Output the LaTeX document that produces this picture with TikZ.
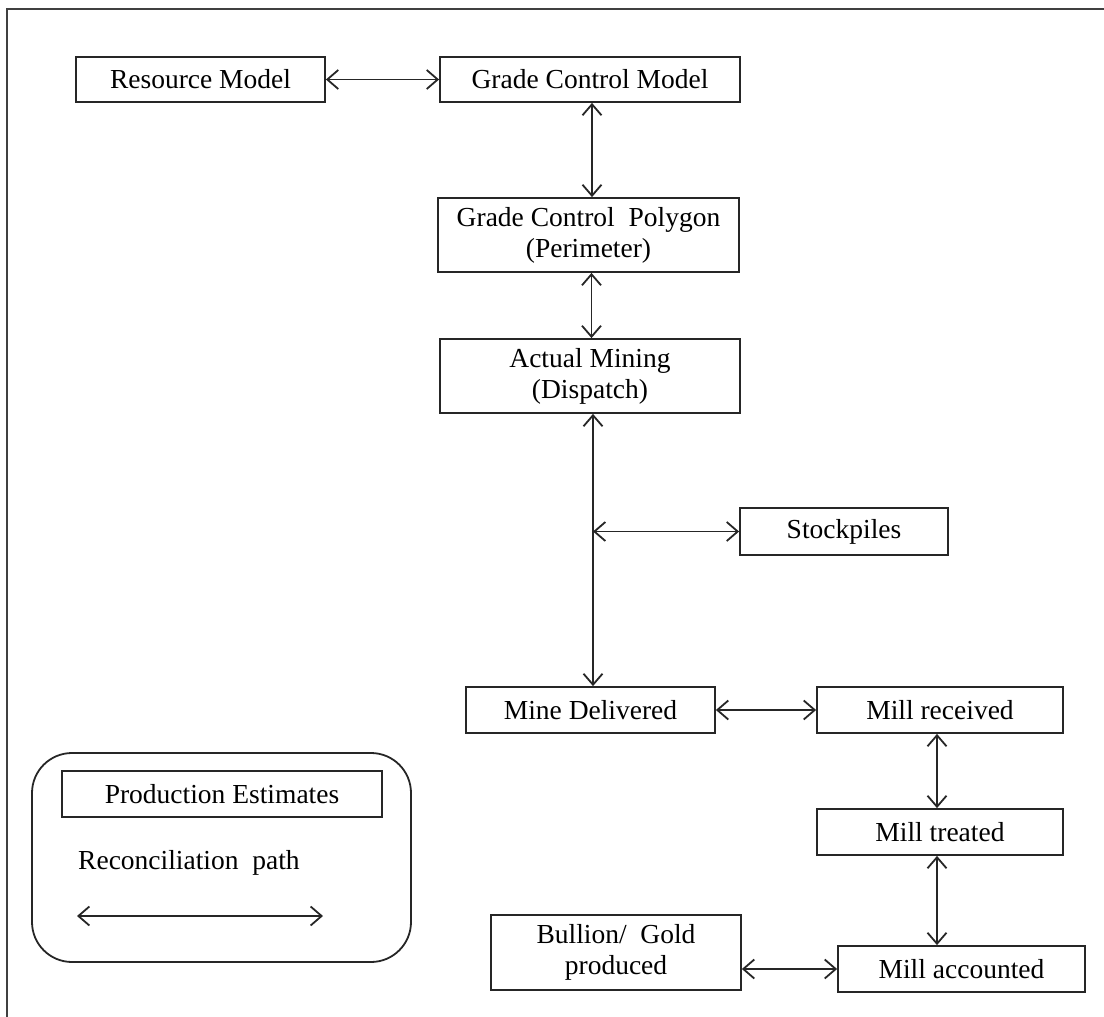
\documentclass[tikz,border=0pt]{standalone}
\usepackage{fontspec}
\setmainfont{Liberation Serif}
\usetikzlibrary{arrows.meta}
\begin{document}
\begin{tikzpicture}[x=1pt,y=-1pt,
  box/.style={draw=black!85, line width=1.8pt, align=center, inner sep=0pt,
    font=\fontsize{27.5}{31}\selectfont},
  arr/.style={draw=black!85, line width=1.8pt, {Straight Barb[length=11pt,width=19pt]}-{Straight Barb[length=11pt,width=19pt]}},
  frame/.style={draw=black!75, line width=2pt}]
\useasboundingbox (0,0) rectangle (1104,1017);
\draw[frame] (7,1017) -- (7,9) -- (1104,9);

\node[box, minimum width=249pt, minimum height=45pt] (RM) at (200.5,79.5) {Resource Model};
\node[box, minimum width=300pt, minimum height=45pt] (GCM) at (590,79.5) {Grade Control Model};
\node[box, minimum width=301pt, minimum height=74pt] (GCP) at (588.5,235) {Grade Control~ Polygon\\(Perimeter)};
\node[box, minimum width=300pt, minimum height=74pt] (AM) at (590,376) {Actual Mining\\(Dispatch)};
\node[box, minimum width=208pt, minimum height=47pt] (SP) at (844,531.5) {Stockpiles};
\node[box, minimum width=249pt, minimum height=46pt] (MD) at (590.5,710) {Mine Delivered};
\node[box, minimum width=246pt, minimum height=46pt] (MR) at (940,710) {Mill received};
\node[box, minimum width=246pt, minimum height=46pt] (MT) at (940,832) {Mill treated};
\node[box, minimum width=247pt, minimum height=46pt] (MA) at (961.5,969) {Mill accounted};
\node[box, minimum width=250pt, minimum height=75pt] (BG) at (616,952.5) {Bullion/~ Gold\\produced};

\draw[arr] (RM.east) -- (GCM.west);
\draw[arr] ([xshift=2pt]GCM.south) -- ([xshift=2pt]GCM.south |- GCP.north);
\draw[arr] ([xshift=3pt]GCP.south) -- ([xshift=3pt]GCP.south |- AM.north);
\draw[arr] ([xshift=3pt]AM.south) -- ([xshift=3pt]AM.south |- MD.north);
\coordinate (J) at ([xshift=3pt]AM.south |- SP.west);
\draw[arr] (J) -- (SP.west);
\draw[arr] (MD.east) -- (MR.west);
\draw[arr] ([xshift=-3pt]MR.south) -- ([xshift=-3pt]MR.south |- MT.north);
\draw[arr] ([xshift=-3pt]MT.south) -- ([xshift=-3pt]MT.south |- MA.north);
\draw[arr] (MA.west -| BG.east) -- (MA.west);

% legend
\node[draw=black!85, line width=1.8pt, rounded corners=40pt, minimum width=379pt, minimum height=209pt] (LG) at (221.5,857.5) {};
\node[box, minimum width=320pt, minimum height=46pt] (PE) at (222,794) {Production Estimates};
\node[anchor=west, inner sep=0pt, font=\fontsize{27.5}{31}\selectfont] (RP) at (78,863) {Reconciliation~ path};
\coordinate (L1) at (77,916);
\coordinate (L2) at (323,916);
\draw[arr] (L1) -- (L2);
\end{tikzpicture}
\end{document}
